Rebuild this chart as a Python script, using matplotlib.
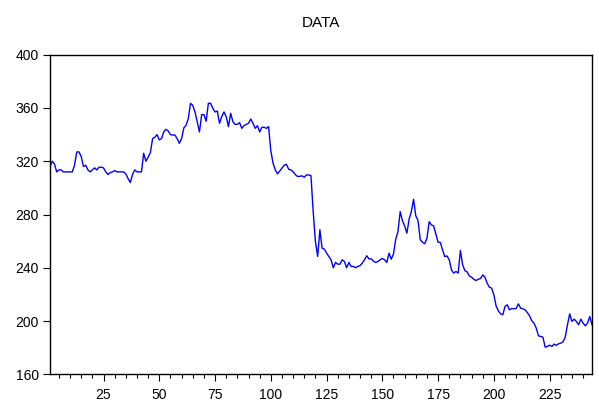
import numpy as np
import matplotlib
matplotlib.use("Agg")
import matplotlib.pyplot as plt
from matplotlib.ticker import MultipleLocator

plt.rcParams['font.family'] = ['Liberation Sans', 'DejaVu Sans']

# valores, observaciones 1..244
serie = [
    316, 320, 318, 312, 313.5, 313.5, 312, 312, 312, 312,
    312, 317, 327, 327, 323.5, 316, 317, 313.5, 312, 313.5,
    315, 313.5, 315.5, 315.5, 315, 312, 310, 311.5, 312, 313,
    312, 312, 312, 312, 310.5, 307, 304, 310, 313.5, 312,
    312, 312, 326, 320, 323, 326.5, 337, 338, 340, 336,
    337, 342, 344, 342.7, 340, 339.7, 339.7, 337, 333.5, 337,
    345, 347, 352, 363.5, 362, 357, 349.7, 342, 355, 355,
    350, 363.5, 363.5, 359.7, 357, 357.7, 348.5, 353.5, 357, 353.5,
    346, 356, 349.7, 347.7, 347.7, 349, 344.7, 346.7, 347.7, 348.5,
    351.7, 348.5, 344.7, 346.7, 342, 345.5, 345.5, 344.7, 346, 328,
    318.5, 313.5, 310.5, 312.7, 315, 317, 317.7, 314, 313.5, 312,
    310, 308.5, 308.7, 309, 308, 309.7, 309.7, 309.2, 282, 259.7,
    248.5, 268.5, 254.7, 254, 251, 248.5, 246, 240, 244, 242.7,
    242.7, 246, 244.7, 240, 244, 241, 241, 240, 241, 241.7,
    243.5, 246, 249, 246.7, 246.7, 245, 244, 244.7, 246, 247,
    246, 244, 251, 246.4, 250.4, 261.4, 267.2, 282.2, 275.4, 271.4,
    266, 276.4, 282.2, 291.4, 279, 275.4, 261, 259.2, 258, 262.2,
    274.6, 272.2, 271.4, 265.4, 259.2, 259, 253.4, 248.4, 248.9, 245.9,
    238.4, 236, 237.2, 236, 253, 242.2, 237.9, 236.9, 233.9, 232.9,
    231.4, 230.4, 231.4, 231.9, 234.6, 232.9, 228.4, 225.4, 224.7, 219.7,
    211.4, 207.7, 205.4, 204.7, 210.9, 212.2, 208.4, 209.4, 209.2, 209.4,
    212.9, 209.7, 209.2, 208.4, 206.4, 203.9, 200.2, 198.4, 194.7, 188.9,
    188.4, 187.9, 180.4, 180.9, 181.9, 180.9, 182.7, 181.7, 182.9, 183.4,
    184.4, 187.9, 197.2, 205.4, 199.7, 201.4, 199.7, 197.2, 201.4, 198.4,
    196.4, 198.4, 203.4, 197.2,
]
obs = np.arange(1, len(serie) + 1)

yticks = [160, 200, 240, 280, 320, 360, 400]
xticks = [25, 50, 75, 100, 125, 150, 175, 200, 225]

fig = plt.figure(figsize=(5.99, 4.01), dpi=100)
ax = fig.add_axes([50 / 599, (401 - 374.3) / 401, 542 / 599, 319.6 / 401])

ax.plot(obs, serie, color='#0000ff', linewidth=1.0)

ax.set_xlim(1, len(serie))
ax.set_ylim(160, 400)
ax.set_yticks(yticks)
ax.set_xticks(xticks)
ax.xaxis.set_minor_locator(MultipleLocator(5))

ax.tick_params(axis='both', which='major', direction='out', length=5, width=0.8,
               labelsize=10, colors='black', pad=3)
ax.tick_params(axis='x', which='major', pad=5)
ax.tick_params(axis='x', which='minor', direction='out', length=3, width=0.8)

for s in ax.spines.values():
    s.set_linewidth(1.0)
    s.set_color('black')

ax.set_title('DATA', fontsize=11, pad=20)

plt.savefig('out.png', dpi=100)
plt.close()
